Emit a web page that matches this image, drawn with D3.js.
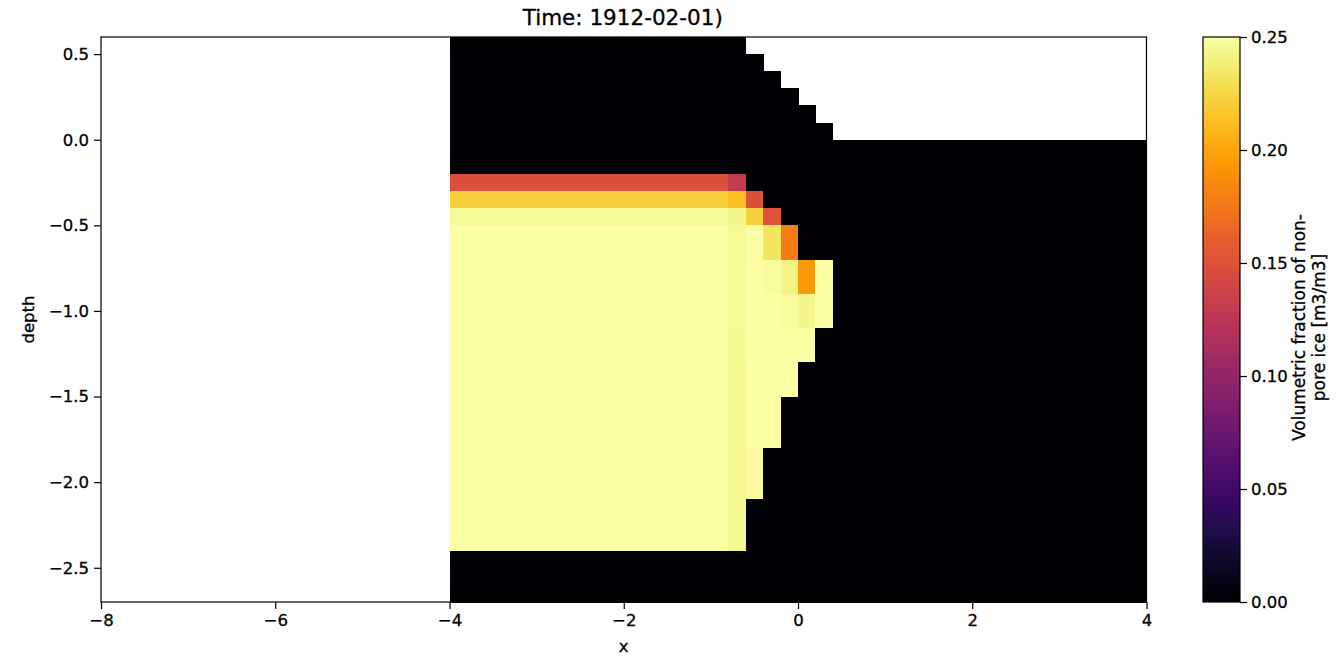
<!DOCTYPE html>
<html>
<head>
<meta charset="utf-8">
<script src="https://cdn.jsdelivr.net/npm/d3@7"></script>
<style>
  html, body { margin: 0; padding: 0; background: #fff; }
  svg { display: block; font-family: "DejaVu Sans", sans-serif; }
  text { fill: #000; stroke: #000; stroke-width: 0.3px; }
</style>
</head>
<body>
<svg id="chart" width="1342" height="657"></svg>
<script>
// ---------------- data ----------------
const titleText = "Time: 1912-02-01)";
const xLabel = "x";
const yLabel = "depth";
const cbarLabelLines = ["Volumetric fraction of non-", "pore ice [m3/m3]"];

// cell edges along x (column boundaries)
const xEdges = [-4.0, -3.8, -3.6, -3.4, -3.2, -3.0, -2.8, -2.6, -2.4, -2.2,
                -2.0, -1.8, -1.6, -1.4, -1.2, -1.0, -0.8, -0.6, -0.4, -0.2,
                 0.0,  0.2,  0.4,  0.6,  0.8,  1.0,  1.2,  1.4,  1.6,  1.8,
                 2.0,  2.2,  2.4,  2.6,  2.8,  3.0,  3.2,  3.4,  3.6,  3.8, 4.0];
// cell edges along depth (row boundaries, top to bottom)
const depthEdges = [0.6, 0.5, 0.4, 0.3, 0.2, 0.1, 0.0, -0.1, -0.2, -0.3, -0.4,
                    -0.5, -0.7, -0.9, -1.1, -1.3, -1.5, -1.8, -2.1, -2.4, -2.7];
// ground surface (top of valid cells) for each column
const columnTop = [0.6, 0.6, 0.6, 0.6, 0.6, 0.6, 0.6, 0.6, 0.6, 0.6,
                   0.6, 0.6, 0.6, 0.6, 0.6, 0.6, 0.6, 0.5, 0.4, 0.3,
                   0.2, 0.1, 0.0, 0.0, 0.0, 0.0, 0.0, 0.0, 0.0, 0.0,
                   0.0, 0.0, 0.0, 0.0, 0.0, 0.0, 0.0, 0.0, 0.0, 0.0];
// value for each row in the bulk columns (x from -4 to -0.8)
const rowBulk = [0, 0, 0, 0, 0, 0, 0, 0,
                 0.149, 0.222, 0.246, 0.2495, 0.2495, 0.2495, 0.2495,
                 0.2495, 0.2495, 0.2495, 0.2495, 0];
// values near the thaw front, starting at column x = -0.8 (rest of row is 0)
const rowFront = [
  [], [], [], [], [], [], [], [],
  [0.13],
  [0.212, 0.149],
  [0.243, 0.222, 0.150],
  [0.246, 0.2485, 0.232, 0.177],
  [0.246, 0.2495, 0.248, 0.242, 0.194, 0.2495],
  [0.246, 0.2495, 0.2495, 0.248, 0.243, 0.2495],
  [0.245, 0.2495, 0.2495, 0.2495, 0.2495],
  [0.244, 0.2495, 0.2495, 0.2495],
  [0.244, 0.2495, 0.2495],
  [0.244, 0.248],
  [0.245],
  []
];
const frontStartColumn = 16;

const xTicks = [-8, -6, -4, -2, 0, 2, 4];
const yTicks = [0.5, 0.0, -0.5, -1.0, -1.5, -2.0, -2.5];
const cTicks = [0.00, 0.05, 0.10, 0.15, 0.20, 0.25];
const xDomain = [-8, 4];
const yDomain = [-2.7, 0.6];
const cDomain = [0, 0.25];

// ---------------- layout ----------------
const plot = { left: 101, right: 1146.5, top: 37, bottom: 602 };
const cbar = { left: 1203, right: 1240, top: 37, bottom: 602 };

const svg = d3.select("#chart");
const x = d3.scaleLinear().domain(xDomain).range([plot.left, plot.right]);
const y = d3.scaleLinear().domain(yDomain).range([plot.bottom, plot.top]);
const color = d3.scaleSequential(d3.interpolateInferno).domain(cDomain).clamp(true);

// build cells
const cells = [];
for (let r = 0; r < depthEdges.length - 1; r++) {
  for (let c = 0; c < xEdges.length - 1; c++) {
    if (depthEdges[r] > columnTop[c] + 1e-9) continue; // above surface -> no data
    let v;
    if (c < frontStartColumn) v = rowBulk[r];
    else {
      const f = rowFront[r][c - frontStartColumn];
      v = (f === undefined) ? 0 : f;
    }
    cells.push({ x0: xEdges[c], x1: xEdges[c + 1], y0: depthEdges[r], y1: depthEdges[r + 1], v });
  }
}

svg.append("g")
  .selectAll("rect")
  .data(cells)
  .join("rect")
  .attr("x", d => x(d.x0))
  .attr("y", d => y(d.y0))
  .attr("width", d => x(d.x1) - x(d.x0) + 0.5)
  .attr("height", d => y(d.y1) - y(d.y0) + 0.5)
  .attr("fill", d => color(d.v))
  .attr("shape-rendering", "crispEdges");

// frame
svg.append("rect")
  .attr("x", plot.left).attr("y", plot.top)
  .attr("width", plot.right - plot.left).attr("height", plot.bottom - plot.top)
  .attr("fill", "none").attr("stroke", "#000").attr("stroke-width", 1.2);

// axes
const fmt1 = d3.format(".1f");
const xAxis = svg.append("g")
  .attr("transform", `translate(0,${plot.bottom})`)
  .call(d3.axisBottom(x).tickValues(xTicks).tickSize(7).tickPadding(5).tickFormat(d3.format("d")));
const yAxis = svg.append("g")
  .attr("transform", `translate(${plot.left},0)`)
  .call(d3.axisLeft(y).tickValues(yTicks).tickSize(7).tickPadding(5).tickFormat(fmt1));
[xAxis, yAxis].forEach(g => {
  g.select(".domain").remove();
  g.selectAll(".tick line").attr("stroke", "#000").attr("stroke-width", 1.2);
  g.selectAll(".tick text").attr("font-family", "DejaVu Sans").attr("font-size", 16.5);
});

// titles
svg.append("text")
  .attr("x", (plot.left + plot.right) / 2 - 1).attr("y", 25)
  .attr("text-anchor", "middle").attr("font-size", 21.5)
  .text(titleText);
svg.append("text")
  .attr("x", (plot.left + plot.right) / 2).attr("y", 652)
  .attr("text-anchor", "middle").attr("font-size", 16.5)
  .text(xLabel);
svg.append("text")
  .attr("transform", `translate(34,${(plot.top + plot.bottom) / 2}) rotate(-90)`)
  .attr("text-anchor", "middle").attr("font-size", 16.5)
  .text(yLabel);

// colorbar
const cScale = d3.scaleLinear().domain(cDomain).range([cbar.bottom, cbar.top]);
const defs = svg.append("defs");
const grad = defs.append("linearGradient").attr("id", "cgrad")
  .attr("x1", 0).attr("y1", 1).attr("x2", 0).attr("y2", 0);
grad.selectAll("stop")
  .data(d3.range(0, 1.0001, 0.02))
  .join("stop")
  .attr("offset", d => d)
  .attr("stop-color", d => d3.interpolateInferno(d));
svg.append("rect")
  .attr("x", cbar.left).attr("y", cbar.top)
  .attr("width", cbar.right - cbar.left).attr("height", cbar.bottom - cbar.top)
  .attr("fill", "url(#cgrad)").attr("stroke", "#000").attr("stroke-width", 1.2);
const cAxis = svg.append("g")
  .attr("transform", `translate(${cbar.right},0)`)
  .call(d3.axisRight(cScale).tickValues(cTicks).tickSize(7).tickPadding(4).tickFormat(d3.format(".2f")));
cAxis.select(".domain").remove();
cAxis.selectAll(".tick line").attr("stroke", "#000").attr("stroke-width", 1.2);
cAxis.selectAll(".tick text").attr("font-family", "DejaVu Sans").attr("font-size", 16.5);

const cl = svg.append("text")
  .attr("transform", `translate(1305,${(cbar.top + cbar.bottom) / 2 + 8}) rotate(-90)`)
  .attr("text-anchor", "middle").attr("font-size", 17);
cl.selectAll("tspan").data(cbarLabelLines).join("tspan")
  .attr("x", 0).attr("dy", (d, i) => i === 0 ? 0 : "1.2em")
  .text(d => d);
</script>
</body>
</html>
